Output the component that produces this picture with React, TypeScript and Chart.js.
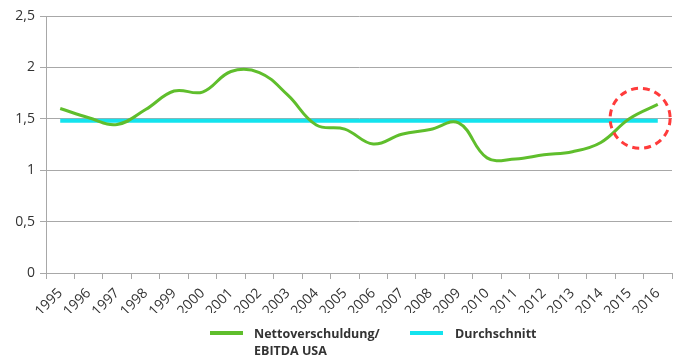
import React, { useEffect, useRef } from "react";
import { Chart, registerables } from "chart.js";

Chart.register(...registerables);

const years = [
  "1995", "1996", "1997", "1998", "1999", "2000", "2001", "2002", "2003", "2004", "2005",
  "2006", "2007", "2008", "2009", "2010", "2011", "2012", "2013", "2014", "2015", "2016",
];
const netDebtEbitda = [
  1.6, 1.51, 1.445, 1.59, 1.77, 1.76, 1.96, 1.95, 1.73, 1.44, 1.4,
  1.255, 1.35, 1.395, 1.46, 1.12, 1.11, 1.15, 1.18, 1.27, 1.5, 1.64,
];
const averageValue = 1.48;
const averageLine = years.map(() => averageValue);
const yTicks = [0, 0.5, 1, 1.5, 2, 2.5];
const seriesLabels = ["Nettoverschuldung/ EBITDA USA", "Durchschnitt"];
// highlight circle (category index, value)
const highlightIndex = 20.38;
const highlightValue = 1.505;

const GREEN = "#5fbe2c";
const CYAN = "#14e3ee";
const GRID = "#a8a8a8";
const TEXT = "#333333";
const FONT = "'Open Sans', 'Noto Sans', sans-serif";

const circlePlugin = {
  id: "highlightCircle",
  afterDatasetsDraw(chart: any) {
    const { ctx, scales } = chart;
    const cx = scales.x.getPixelForValue(highlightIndex);
    const cy = scales.y.getPixelForValue(highlightValue);
    ctx.save();
    ctx.beginPath();
    ctx.setLineDash([7, 5]);
    ctx.lineWidth = 3;
    ctx.strokeStyle = "#ff3b3b";
    ctx.arc(cx, cy, 30, 0, Math.PI * 2);
    ctx.stroke();
    ctx.restore();
  },
};

const swatch = (color: string): React.CSSProperties => ({
  position: "absolute",
  width: 33,
  height: 4,
  top: 331,
  background: color,
});

const legendText: React.CSSProperties = {
  position: "absolute",
  top: 325,
  fontFamily: FONT,
  fontWeight: 700,
  fontSize: 12.5,
  lineHeight: "17px",
  color: TEXT,
  whiteSpace: "nowrap",
};

export default function App() {
  const canvasRef = useRef<HTMLCanvasElement | null>(null);

  useEffect(() => {
    document.body.style.margin = "0";
    const canvas = canvasRef.current;
    if (!canvas) return;
    const chart = new Chart(canvas, {
      type: "line",
      data: {
        labels: years,
        datasets: [
          {
            label: seriesLabels[0],
            data: netDebtEbitda,
            borderColor: GREEN,
            backgroundColor: GREEN,
            borderWidth: 3,
            pointRadius: 0,
            tension: 0.4,
            fill: false,
            order: 1,
          },
          {
            label: seriesLabels[1],
            data: averageLine,
            borderColor: CYAN,
            backgroundColor: CYAN,
            borderWidth: 4,
            pointRadius: 0,
            tension: 0,
            fill: false,
            order: 2,
          },
        ],
      },
      options: {
        animation: false,
        responsive: false,
        layout: { padding: { top: 16, right: 28, left: 0, bottom: 50 } },
        scales: {
          x: {
            offset: true,
            afterFit(scale: any) {
              scale.height = 40;
            },
            grid: {
              display: true,
              drawOnChartArea: false,
              offset: true,
              color: GRID,
              tickLength: 6,
            },
            border: { color: GRID },
            ticks: {
              color: TEXT,
              font: { family: FONT, size: 14 },
              minRotation: 45,
              maxRotation: 45,
              padding: 6,
              autoSkip: false,
            },
          },
          y: {
            min: 0,
            max: 2.5,
            afterBuildTicks(scale: any) {
              scale.ticks = yTicks.map((v) => ({ value: v }));
            },
            afterFit(scale: any) {
              scale.width = 46;
            },
            grid: { color: GRID, tickLength: 6 },
            border: { color: GRID },
            ticks: {
              color: TEXT,
              font: { family: FONT, size: 14 },
              padding: 5,
              callback: (v: any) => String(v).replace(".", ","),
            },
          },
        },
        plugins: {
          tooltip: { enabled: false },
          legend: { display: false },
        },
      },
      plugins: [circlePlugin],
    });
    return () => chart.destroy();
  }, []);

  return (
    <div style={{ position: "relative", width: 700, height: 363 }}>
      <canvas ref={canvasRef} width={700} height={363} style={{ display: "block" }} />
      <div style={{ ...swatch(GREEN), left: 210 }} />
      <div style={{ ...legendText, left: 254 }}>
        Nettoverschuldung/
        <br />
        EBITDA USA
      </div>
      <div style={{ ...swatch(CYAN), left: 410 }} />
      <div style={{ ...legendText, left: 455 }}>Durchschnitt</div>
    </div>
  );
}
